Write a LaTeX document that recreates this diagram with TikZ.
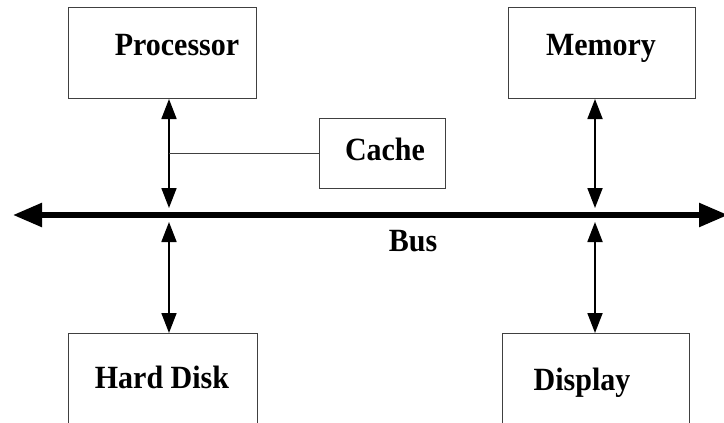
\documentclass[tikz,border=0pt]{standalone}
\usepackage{fontspec}
\setmainfont{Liberation Serif}
\usetikzlibrary{arrows.meta}
\newcommand{\tallbf}[1]{\scalebox{1}[1.08]{#1}}
\begin{document}
\begin{tikzpicture}[x=1pt,y=-1pt,
  box/.style={draw=black!75,line width=1pt,rectangle,inner sep=0pt,anchor=north west},
  lbl/.style={font=\fontsize{30}{30}\selectfont\bfseries,anchor=base,inner sep=0pt},
  link/.style={line width=1.8pt,{Triangle[width=15pt,length=20pt]}-{Triangle[width=15pt,length=20pt]}},
  tap/.style={draw=black!75,line width=1pt}]
\useasboundingbox (0,0) rectangle (724,423);
\clip (0,0) rectangle (724,423);
% boxes
\node[box,minimum width=188pt,minimum height=91pt] (p) at (68,7) {};
\node[box,minimum width=187pt,minimum height=91pt] (m) at (508,7) {};
\node[box,minimum width=126pt,minimum height=70pt] (c) at (319,118) {};
\node[box,minimum width=189pt,minimum height=89.5pt] (h) at (68,333) {};
\node[box,minimum width=187pt,minimum height=89.5pt] (d) at (502,333) {};
% labels
\node[lbl] (pt) at (177,55) {\tallbf{Processor}};
\node[lbl] (mt) at (601,55) {\tallbf{Memory}};
\node[lbl] (ct) at (385,160) {\tallbf{Cache}};
\node[lbl] (ht) at (162,388) {\tallbf{Hard Disk}};
\node[lbl] (dt) at (582,390) {\tallbf{Display}};
\node[lbl] (bt) at (413,251) {\tallbf{Bus}};
% bus
\coordinate (bl) at (13,215);
\coordinate (br) at (728,215);
\coordinate (b1) at (169,215);
\coordinate (b2) at (595,215);
\draw[line width=5.5pt,{Triangle[width=23pt,length=29pt]}-{Triangle[width=23pt,length=29pt]}] (bl) -- (br);
% links
\draw[link,shorten >=7pt] (p.south -| b1) -- (b1);
\draw[link,shorten >=7pt] (m.south -| b2) -- (b2);
\draw[link,shorten <=7pt] (b1) -- (h.north -| b1);
\draw[link,shorten <=7pt] (b2) -- (d.north -| b2);
\draw[tap] (c.west) -- (c.west -| b1);
\end{tikzpicture}
\end{document}
